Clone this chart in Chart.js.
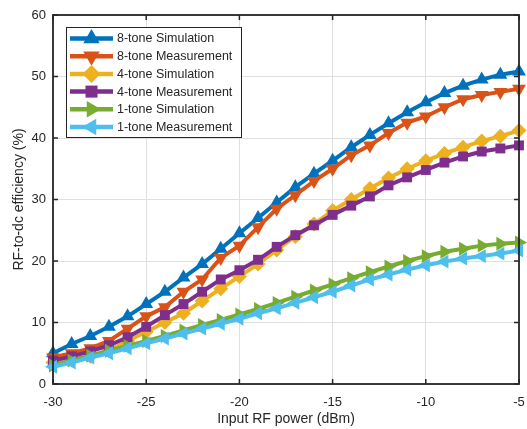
<!DOCTYPE html>
<html>
<head>
<meta charset="utf-8">
<script src="https://cdn.jsdelivr.net/npm/chart.js@4.4.1/dist/chart.umd.min.js"></script>
<style>
  html, body { margin: 0; padding: 0; background: #fff; }
</style>
</head>
<body>
<canvas id="myChart" width="527" height="429"></canvas>
<script>
// input power sweep (dBm)
var powerDbm = [-30, -29, -28, -27, -26, -25, -24, -23, -22, -21, -20, -19, -18,
                -17, -16, -15, -14, -13, -12, -11, -10, -9, -8, -7, -6, -5];

// RF-to-dc efficiency (%)
var sim8  = [5.0, 6.5, 7.8, 9.3, 11.0, 13.0, 15.0, 17.3, 19.5, 22.0, 24.5, 27.0, 29.5,
             32.0, 34.2, 36.3, 38.5, 40.5, 42.4, 44.2, 45.8, 47.3, 48.5, 49.5, 50.3, 50.8];
var meas8 = [4.3, 5.0, 5.8, 7.0, 9.0, 11.0, 12.5, 15.0, 17.0, 20.5, 22.5, 25.5, 28.5,
             30.7, 33.0, 35.0, 37.2, 38.8, 40.8, 42.5, 43.5, 45.0, 46.3, 47.0, 47.5, 48.0];
var sim4  = [3.5, 4.0, 4.5, 5.5, 7.0, 8.5, 10.0, 11.5, 13.5, 15.5, 17.5, 19.5, 21.8,
             24.0, 26.0, 28.2, 30.0, 31.8, 33.5, 35.0, 36.3, 37.5, 38.5, 39.5, 40.3, 41.2];
var meas4 = [3.8, 4.5, 5.3, 6.3, 7.6, 9.3, 11.2, 13.0, 15.0, 17.0, 18.5, 20.2, 22.3,
             24.2, 25.8, 27.5, 29.0, 30.5, 32.3, 33.6, 34.8, 36.0, 37.0, 37.8, 38.3, 38.8];
var sim1  = [3.0, 3.8, 4.6, 5.4, 6.2, 7.0, 7.8, 8.7, 9.6, 10.4, 11.3, 12.2, 13.2,
             14.2, 15.2, 16.2, 17.2, 18.2, 19.1, 20.0, 20.8, 21.5, 22.0, 22.5, 22.8, 23.0];
var meas1 = [2.8, 3.5, 4.3, 5.0, 5.8, 6.6, 7.4, 8.2, 9.0, 9.8, 10.6, 11.5, 12.3,
             13.2, 14.1, 15.0, 16.0, 17.0, 17.8, 18.6, 19.3, 19.9, 20.4, 20.8, 21.2, 21.7];

var seriesNames = ["8-tone Simulation", "8-tone Measurement", "4-tone Simulation",
                   "4-tone Measurement", "1-tone Simulation", "1-tone Measurement"];
var seriesValues = [sim8, meas8, sim4, meas4, sim1, meas1];
var seriesColors = ["#0072BD", "#D95319", "#EDB120", "#7E2F8E", "#77AC30", "#4DBEEE"];
var markerStyles = ["triangle", "triangle", "rectRot", "rect", "triangle", "triangle"];
var markerRotations = [0, 180, 0, 0, 90, 270];
var markerSizes = [8, 8, 7.5, 7, 8, 8];

var xTicks = [-30, -25, -20, -15, -10, -5];
var yTicks = [0, 10, 20, 30, 40, 50, 60];

var fontName = "'Liberation Sans', Arial, Helvetica, sans-serif";
var axisColor = "#262626";

var datasets = seriesValues.map(function (vals, i) {
  return {
    label: seriesNames[i],
    data: vals.map(function (v, j) { return {x: powerDbm[j], y: v}; }),
    borderColor: seriesColors[i],
    backgroundColor: seriesColors[i],
    borderWidth: 4,
    pointStyle: markerStyles[i],
    pointRotation: markerRotations[i],
    pointRadius: markerSizes[i],
    pointBorderWidth: 0,
    tension: 0,
    clip: false,
    order: seriesValues.length - i   // later series on top, like matlab
  };
});

// box, inside ticks and the legend, matlab style
var matlabFrame = {
  id: "matlabFrame",
  afterDraw: function (chart) {
    var ctx = chart.ctx;
    var a = chart.chartArea;
    var xs = chart.scales.x, ys = chart.scales.y;
    ctx.save();
    ctx.strokeStyle = axisColor;
    ctx.lineWidth = 1.8;
    ctx.strokeRect(a.left, a.top, a.right - a.left, a.bottom - a.top);
    ctx.lineWidth = 1.5;
    ctx.beginPath();
    xTicks.forEach(function (t) {
      var px = xs.getPixelForValue(t);
      ctx.moveTo(px, a.bottom); ctx.lineTo(px, a.bottom - 5);
      ctx.moveTo(px, a.top); ctx.lineTo(px, a.top + 5);
    });
    yTicks.forEach(function (t) {
      var py = ys.getPixelForValue(t);
      ctx.moveTo(a.left, py); ctx.lineTo(a.left + 5, py);
      ctx.moveTo(a.right, py); ctx.lineTo(a.right - 5, py);
    });
    ctx.stroke();

    // legend
    var bx = 66, by = 27, bw = 175, bh = 110;
    ctx.fillStyle = "#fff";
    ctx.fillRect(bx, by, bw, bh);
    ctx.lineWidth = 1;
    ctx.strokeStyle = axisColor;
    ctx.strokeRect(bx + 0.5, by + 0.5, bw, bh);
    ctx.font = "12.5px " + fontName;
    ctx.textBaseline = "middle";
    chart.data.datasets.forEach(function (ds, i) {
      var ry = 38.5 + i * 17.7;
      ctx.strokeStyle = ds.borderColor;
      ctx.fillStyle = ds.backgroundColor;
      ctx.lineWidth = 4.5;
      ctx.beginPath();
      ctx.moveTo(70, ry); ctx.lineTo(113, ry);
      ctx.stroke();
      Chart.helpers.drawPoint(ctx, {
        pointStyle: ds.pointStyle,
        rotation: ds.pointRotation,
        radius: ds.pointRadius + 1.5,
        borderWidth: 0
      }, 91.5, ry);
      ctx.fillStyle = axisColor;
      ctx.fillText(ds.label, 117, ry + 0.5);
    });
    ctx.restore();
  }
};

var mychart = new Chart("myChart", {
  type: "line",
  data: { datasets: datasets },
  options: {
    responsive: false,
    animation: false,
    devicePixelRatio: 1,
    layout: { padding: { top: 15, right: 7, left: 0, bottom: 0 } },
    plugins: {
      legend: { display: false },
      tooltip: { enabled: false }
    },
    scales: {
      x: {
        type: "linear",
        min: -30,
        max: -5,
        afterBuildTicks: function (s) { s.ticks = xTicks.map(function (v) { return {value: v}; }); },
        afterFit: function (s) { s.height = 45; s.paddingLeft = 0; s.paddingRight = 0; },
        grid: { color: "#dfdfdf", lineWidth: 1, drawTicks: false },
        border: { display: false },
        ticks: { color: axisColor, padding: 11, maxRotation: 0, font: { family: fontName, size: 13 } },
        title: {
          display: true,
          text: "Input RF power (dBm)",
          color: axisColor,
          padding: { top: 0, bottom: 1 },
          font: { family: fontName, size: 14 }
        }
      },
      y: {
        min: 0,
        max: 60,
        afterBuildTicks: function (s) { s.ticks = yTicks.map(function (v) { return {value: v}; }); },
        afterFit: function (s) { s.width = 53; s.paddingTop = 0; s.paddingBottom = 0; },
        grid: { color: "#dfdfdf", lineWidth: 1, drawTicks: false },
        border: { display: false },
        ticks: { color: axisColor, padding: 7, font: { family: fontName, size: 13 } },
        title: {
          display: true,
          text: "RF-to-dc efficiency (%)",
          color: axisColor,
          padding: { top: 11, bottom: 0 },
          font: { family: fontName, size: 14 }
        }
      }
    }
  },
  plugins: [matlabFrame]
});
</script>
</body>
</html>
